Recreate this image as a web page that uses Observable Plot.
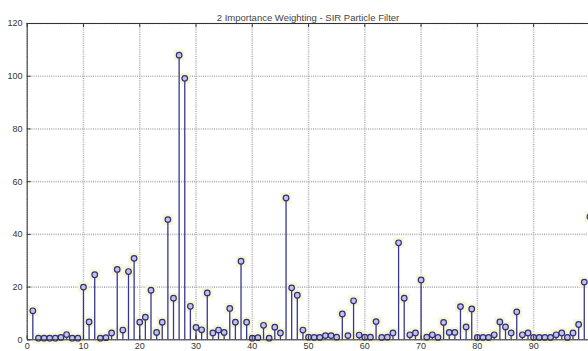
<!DOCTYPE html>
<html><head><meta charset="utf-8">
<script src="https://cdn.jsdelivr.net/npm/d3@7"></script>
<script src="https://cdn.jsdelivr.net/npm/@observablehq/plot@0.6"></script>
<style>html,body{margin:0;padding:0;background:#fff;overflow:hidden}</style>
</head><body><div id="chart"></div>
<script>
const title = "2 Importance Weighting - SIR Particle Filter";
const weights = [
  11, 0.6, 0.6, 0.6, 0.6, 0.9, 2, 0.6, 0.6, 20,
  6.8, 24.7, 0.6, 0.8, 2.6, 26.7, 3.7, 25.9, 30.9, 6.7,
  8.6, 18.8, 2.8, 6.7, 45.6, 15.8, 108, 99.2, 12.7, 4.7,
  3.8, 17.8, 2.6, 3.7, 2.8, 11.9, 6.7, 29.8, 6.7, 0.6,
  0.8, 5.5, 0.6, 4.8, 2.6, 53.8, 19.7, 16.9, 3.7, 1.0,
  0.9, 0.9, 1.6, 1.6, 1.0, 9.8, 1.6, 14.8, 1.8, 1.0,
  1.0, 6.9, 0.9, 1.0, 2.6, 36.8, 15.8, 1.9, 2.6, 22.7,
  1.0, 1.9, 0.9, 6.6, 2.8, 2.8, 12.6, 4.9, 11.7, 0.9,
  0.9, 0.9, 1.9, 6.8, 4.9, 2.6, 10.6, 1.9, 2.6, 0.9,
  0.9, 0.9, 0.9, 1.9, 2.6, 0.9, 2.6, 5.8, 21.9, 46.7
];
const xTicks = [0, 10, 20, 30, 40, 50, 60, 70, 80, 90, 100];
const xLabels = [0, 10, 20, 30, 40, 50, 60, 70, 80, 90];
const yTicks = [0, 20, 40, 60, 80, 100, 120];

const data = weights.map((w, i) => ({particle: i + 1, weight: w}));

const chart = Plot.plot({
  width: 588, height: 351,
  marginLeft: 27, marginRight: 0, marginTop: 23, marginBottom: 12,
  x: {domain: [0, 100], range: [26.7, 589.4], label: null},
  y: {domain: [0, 120], range: [339.3, 23], label: null},
  style: {fontFamily: "Liberation Sans, Arial, sans-serif", fontSize: "9px", color: "#333", background: "#fff", overflow: "hidden"},
  marks: [
    Plot.ruleX(xTicks, {stroke: "#b0b0b0", strokeWidth: 1.6, strokeDasharray: "1,1.2"}),
    Plot.ruleY(yTicks, {stroke: "#b0b0b0", strokeWidth: 1.6, strokeDasharray: "1,1.2"}),
    Plot.dot(data, {x: "particle", y: "weight", symbol: "square", r: 6, fill: "#f6f6d2", stroke: null}),
    Plot.ruleX(data, {x: "particle", y1: 0, y2: "weight", stroke: "#38388c", strokeWidth: 1.3}),
    Plot.dot(data, {x: "particle", y: "weight", r: 2.8, stroke: "#2e2e80", fill: "#c4c4e0", strokeWidth: 1.2}),
    Plot.ruleY([0, 120], {stroke: "#333"}),
    Plot.ruleX([0], {stroke: "#333"}),
    Plot.ruleY(yTicks, {x1: 0, x2: 0.7, stroke: "#333"}),
    Plot.ruleX(xTicks, {y1: 0, y2: 1.5, stroke: "#333"}),
    Plot.ruleX(xTicks, {y1: 118.5, y2: 120, stroke: "#333"}),
    Plot.axisY(yTicks, {anchor: "left", tickSize: 0, tickPadding: 5, fill: "#333", label: null}),
    Plot.axisX(xLabels, {anchor: "bottom", tickSize: 0, tickPadding: 3, fill: "#333", label: null}),
    Plot.text([title], {frameAnchor: "top", dy: -9, fontSize: 9.5, fill: "#444"})
  ]
});
document.getElementById("chart").append(chart);
</script>
</body></html>
